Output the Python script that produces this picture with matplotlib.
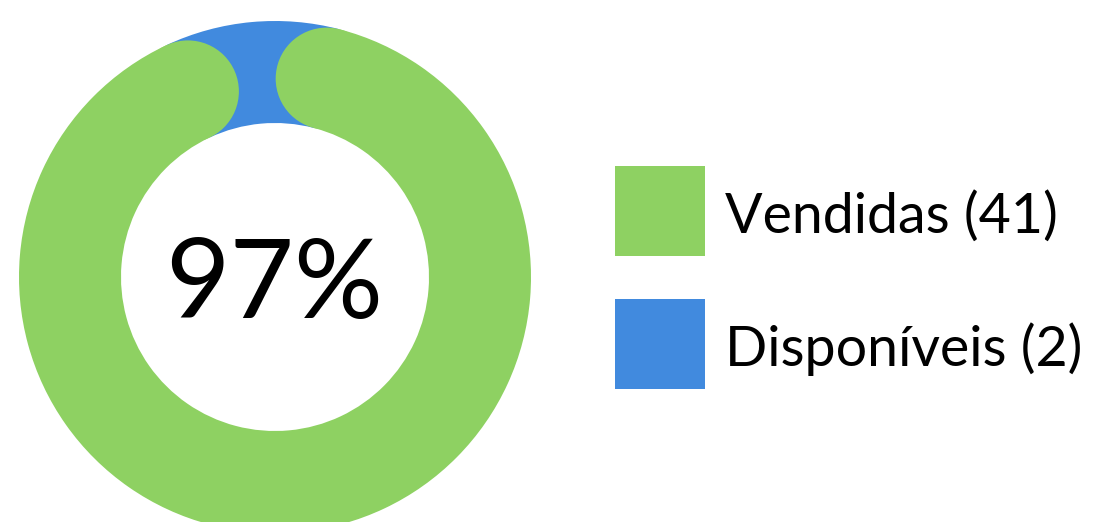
import numpy as np
import matplotlib.pyplot as plt
from matplotlib.patches import Wedge, Circle, Rectangle

labels = ['Vendidas', 'Disponíveis']
values = [41, 2]
colors = ['#8ed162', '#418ade']
center_label = '97%'

plt.rcParams['font.family'] = ['Lato', 'DejaVu Sans']

W, H = 1097, 522
fig = plt.figure(figsize=(W / 100, H / 100), dpi=100)
ax = fig.add_axes([0, 0, 1, 1])
ax.set_xlim(0, W)
ax.set_ylim(H, 0)
ax.set_aspect('equal')
ax.axis('off')

cx, cy = 275, 277
r_out, ring = 256, 102
r_mid = r_out - ring / 2
start = 3.1      # degrees clockwise from top where the first slice begins
inset = 11.5     # degrees each rounded end is pulled in

def to_mpl(a):
    # clockwise-from-top angle -> matplotlib angle (y axis inverted)
    return a - 90

def pt(a):
    t = np.radians(a)
    return cx + r_mid * np.sin(t), cy - r_mid * np.cos(t)

total = sum(values)
g0 = start
g1 = start + values[0] / total * 360
a0, a1 = g0 + inset, g1 - inset

# blue slice behind, spanning the gap between the rounded ends
ax.add_patch(Wedge((cx, cy), r_out, to_mpl(a1), to_mpl(a0 + 360), width=ring,
                   color=colors[1], lw=0))
# green slice with rounded ends
ax.add_patch(Wedge((cx, cy), r_out, to_mpl(a0), to_mpl(a1), width=ring,
                   color=colors[0], lw=0))
for a in (a0, a1):
    ax.add_patch(Circle(pt(a), ring / 2, color=colors[0], lw=0))

ax.text(cx - 1, 318, center_label, fontsize=80, ha='center', va='baseline',
        color='black')

# legend
for i, (lab, val) in enumerate(zip(labels, values)):
    y0 = 166 + i * 133
    ax.add_patch(Rectangle((615, y0), 90, 90, color=colors[i], lw=0))
    ax.text(725, y0 + 67, f'{lab} ({val})', fontsize=40, ha='left',
            va='baseline', color='black')

fig.savefig('out.png', dpi=100)
